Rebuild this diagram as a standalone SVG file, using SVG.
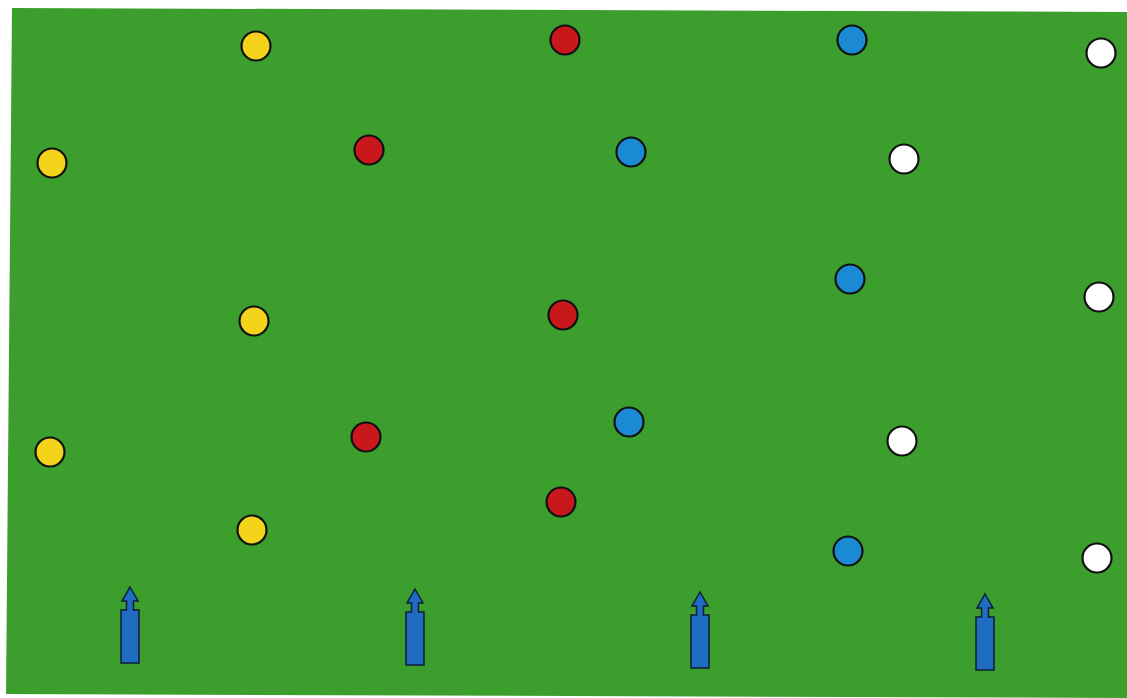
<svg xmlns="http://www.w3.org/2000/svg" width="1127" height="698" viewBox="0 0 1127 698">
<defs>
<style>
.p{stroke:#111;stroke-width:2.2}
.y{fill:#f4d41a}
.r{fill:#c8181c}
.b{fill:#1a8ad4}
.w{fill:#ffffff}
.a{fill:#1f6cc0;stroke:#0d1d3a;stroke-width:1.5;stroke-linejoin:miter}
</style>
<symbol id="arr" overflow="visible">
<path class="a" d="M0,0 L8,14 L3.5,14 L3.5,23 L9,23 L9,76 L-9,76 L-9,23 L-3.5,23 L-3.5,14 L-8,14 Z"/>
</symbol>
</defs>
<rect x="0" y="0" width="1127" height="698" fill="#ffffff"/>
<polygon points="12,8 1127,12 1127,698 6,694" fill="#3c9f2d"/>
<g id="yellow">
<circle class="p y" cx="256" cy="46" r="14.5"/>
<circle class="p y" cx="52" cy="163" r="14.5"/>
<circle class="p y" cx="254" cy="321" r="14.5"/>
<circle class="p y" cx="50" cy="452" r="14.5"/>
<circle class="p y" cx="252" cy="530" r="14.5"/>
</g>
<g id="red">
<circle class="p r" cx="565" cy="40" r="14.5"/>
<circle class="p r" cx="369" cy="150" r="14.5"/>
<circle class="p r" cx="563" cy="315" r="14.5"/>
<circle class="p r" cx="366" cy="437" r="14.5"/>
<circle class="p r" cx="561" cy="502" r="14.5"/>
</g>
<g id="blue">
<circle class="p b" cx="852" cy="40" r="14.5"/>
<circle class="p b" cx="631" cy="152" r="14.5"/>
<circle class="p b" cx="850" cy="279" r="14.5"/>
<circle class="p b" cx="629" cy="422" r="14.5"/>
<circle class="p b" cx="848" cy="551" r="14.5"/>
</g>
<g id="white">
<circle class="p w" cx="1101" cy="53" r="14.5"/>
<circle class="p w" cx="904" cy="159" r="14.5"/>
<circle class="p w" cx="1099" cy="297" r="14.5"/>
<circle class="p w" cx="902" cy="441" r="14.5"/>
<circle class="p w" cx="1097" cy="558" r="14.5"/>
</g>
<g id="arrows">
<use href="#arr" x="130" y="587"/>
<use href="#arr" x="415" y="589"/>
<use href="#arr" x="700" y="592"/>
<use href="#arr" x="985" y="594"/>
</g>
</svg>
